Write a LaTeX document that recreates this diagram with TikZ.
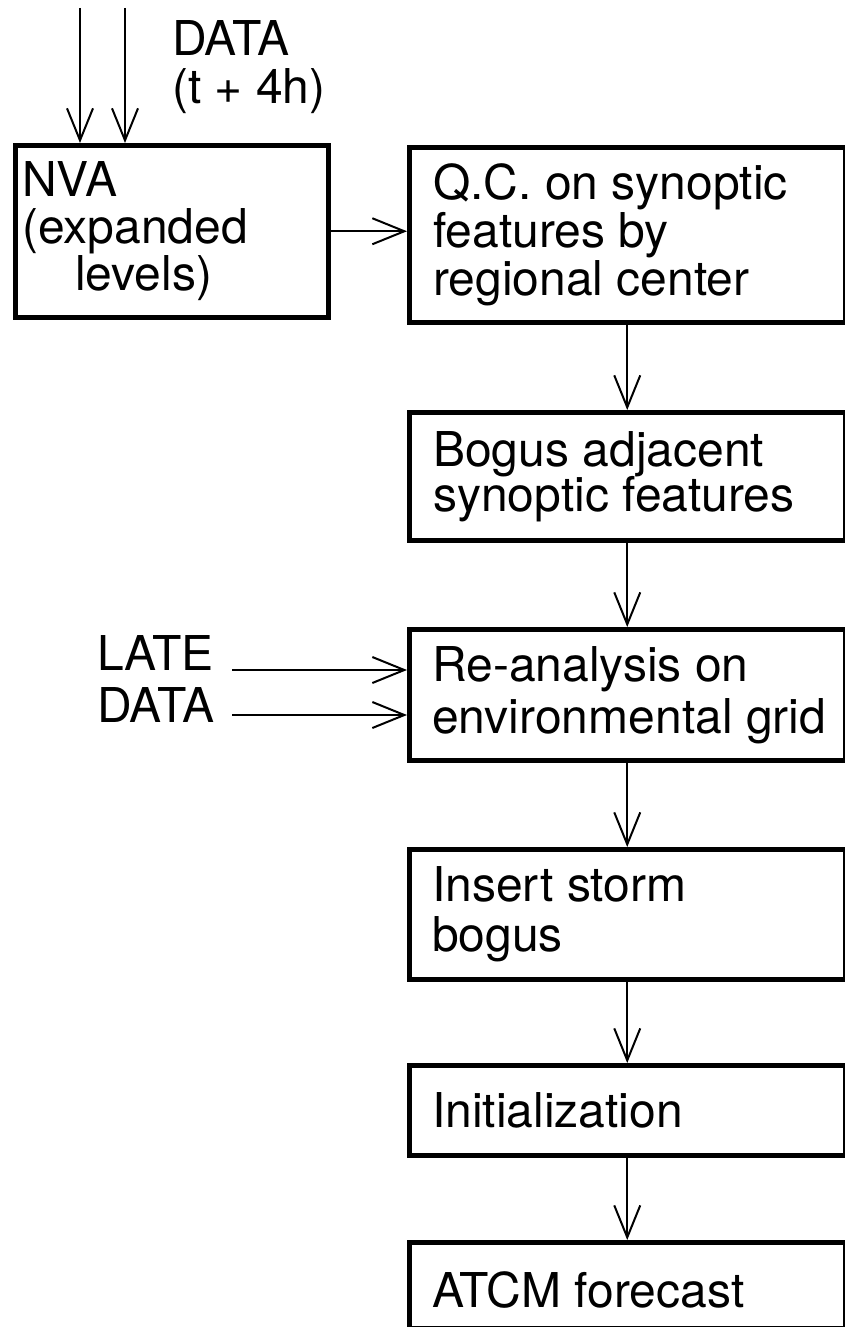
\documentclass[tikz,border=0pt]{standalone}
\usepackage{fontspec}
\setmainfont{TeX Gyre Heros}
\usetikzlibrary{arrows.meta}
\tikzset{
  figfont/.style={font=\fontsize{48}{48}\selectfont},
  stagebox/.style={draw, line width=4.5pt, anchor=north west, inner sep=0pt, minimum width=436pt},
  stagetext/.style={anchor=west, align=left, inner sep=0pt},
  figlabel/.style={anchor=north west, align=left, inner sep=0pt},
  flowarrow/.style={-{Straight Barb[length=32pt, width=26pt]}, line width=2pt},
}

\begin{document}
\begin{tikzpicture}[figfont, x=1pt, y=-1pt]
  \useasboundingbox (0,0) rectangle (844,1327);

  % Incoming data and the NVA box
  \node[stagebox, minimum width=313pt, minimum height=172pt] (nva) at (13,143) {};
  \node[stagetext] (nvatext) at ([xshift=9pt]nva.west) {NVA\\[-1pt](expanded\\[-1pt]\hspace*{53pt}levels)};
  \node[figlabel] (data) at (172,20) {DATA\\[0pt](t + 4h)};
  \coordinate (in1) at (80,8);
  \coordinate (in2) at (125,8);
  \draw[flowarrow] (in1) -- (in1 |- nva.north);
  \draw[flowarrow] (in2) -- (in2 |- nva.north);

  % Main column of stages
  \node[stagebox, minimum height=175pt] (qc) at (407,145) {};
  \node[stagetext] (qctext) at ([xshift=26pt]qc.west) {Q.C. on synoptic\\features by\\regional center};

  \node[stagebox, minimum height=128pt] (bogus) at (407,410) {};
  \node[stagetext] (bogustext) at ([xshift=26pt]bogus.west) {Bogus adjacent\\[-3pt]synoptic features};

  \node[stagebox, minimum height=131pt] (re) at (407,627) {};
  \node[stagetext] (retext) at ([xshift=25pt]re.west) {Re-analysis on\\[4pt]environmental grid};

  \node[stagebox, minimum height=130pt] (insert) at (407,847) {};
  \node[stagetext] (inserttext) at ([xshift=25pt]insert.west) {Insert storm\\[2pt]bogus};

  \node[stagebox, minimum height=90pt] (init) at (407,1063) {};
  \node[stagetext] (inittext) at ([xshift=25pt]init.west) {Initialization};

  \node[stagebox, minimum height=86pt] (atcm) at (407,1240) {};
  \node[stagetext] (atcmtext) at ([xshift=25pt,yshift=-5pt]atcm.west) {ATCM forecast};

  % Late data into the re-analysis
  \node[figlabel] (late) at (97,635) {LATE\\[4pt]DATA};
  \coordinate (late1) at (232,670);
  \coordinate (late2) at (232,715);
  \draw[flowarrow] (late1) -- (late1 -| re.west);
  \draw[flowarrow] (late2) -- (late2 -| re.west);

  % Flow between stages
  \draw[flowarrow] (nva.east) -- (nva.east -| qc.west);
  \draw[flowarrow] (qc) -- (bogus);
  \draw[flowarrow] (bogus) -- (re);
  \draw[flowarrow] (re) -- (insert);
  \draw[flowarrow] (insert) -- (init);
  \draw[flowarrow] (init) -- (atcm);
\end{tikzpicture}
\end{document}
